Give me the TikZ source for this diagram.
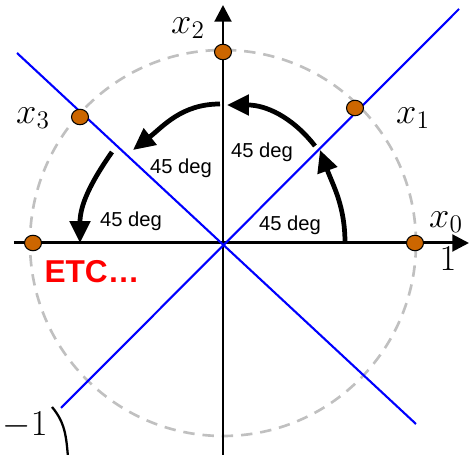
\documentclass[tikz,border=0pt]{standalone}
\usepackage{fontspec}
\usepackage{tikz}
\usetikzlibrary{arrows.meta,shapes.geometric}
\newfontfamily\labfont{Liberation Sans}
\definecolor{dotCol}{HTML}{CC6600}
\definecolor{circEdge}{HTML}{C0C0C0}
\definecolor{lineCol}{HTML}{0000FF}
\definecolor{etcCol}{HTML}{FF0000}
\tikzset{
  ptdot/.style={ellipse, draw=black, fill=dotCol, line width=0.6pt, inner sep=0pt,
        minimum width=0.34cm, minimum height=0.31cm},
  axis/.style={-{Triangle[length=9.5pt,width=9.5pt]}, line width=1.7pt},
  diag/.style={lineCol, line width=1.2pt},
  turn/.style={-{Triangle[length=12.5pt,width=11.5pt]}, line width=2.7pt},
  mlab/.style={font=\fontsize{20}{22}\selectfont, inner sep=0pt},
  dlab/.style={font=\labfont\fontsize{11.5}{13}\selectfont, inner sep=0pt},
}

\begin{document}
\begin{tikzpicture}[x=0.02cm,y=0.02cm]
  \useasboundingbox (-223,-212) rectangle (247,243);
  \draw[circEdge, line width=1.5pt, dash pattern=on 6.5pt off 4.5pt] (0,0) circle (193);
  % axes
  \coordinate (xl) at (-209,0);
  \coordinate (xr) at (246,0);
  \coordinate (yb) at (0,-214);
  \coordinate (yt) at (0,238);
  \draw[axis] (xl)--(xr);
  \draw[axis] (yb)--(yt);
  % quarter turns
  \coordinate (s1) at (122,0);   \coordinate (e1) at (97,93);
  \coordinate (s2) at (92,97);   \coordinate (e2) at (4,138);
  \coordinate (s3) at (-3,139);  \coordinate (e3) at (-90,93);
  \coordinate (s4) at (-111,91); \coordinate (e4) at (-143,0);
  \draw[turn] (s1) to[out=90,in=-70] (e1);
  \draw[turn] (s2) to[out=128,in=0] (e2);
  \draw[turn] (s3) to[out=180,in=38] (e3);
  \draw[turn] (s4) to[out=-125,in=90] (e4);
  % diagonals
  \coordinate (a1) at (-162,-165); \coordinate (a2) at (236,234);
  \coordinate (b1) at (-206,190);  \coordinate (b2) at (193,-181);
  \draw[diag] (a1)--(a2);
  \draw[diag] (b1)--(b2);
  % points on the circle
  \node[ptdot] (p0) at (192,0){};
  \node[ptdot] (p1) at (132,135){};
  \node[ptdot] (p2) at (0,191){};
  \node[ptdot] (p3) at (-143,126){};
  \node[ptdot] (p4) at (-190,0){};
  \node[mlab] (l0) at (223,21){$x_0$};
  \node[mlab] (l1) at (190,125){$x_1$};
  \node[mlab] (l2) at (-35,215){$x_2$};
  \node[mlab] (l3) at (-190,125){$x_3$};
  \node[mlab] (one) at (225,-16){$1$};
  \node[mlab] (mone) at (-198,-182){$-1$};
  \coordinate (c1) at (-171,-164);
  \coordinate (c2) at (-155,-214);
  \draw[line width=1.3pt] (c1) to[out=-50,in=95] (c2);
  \node[dlab] (g1) at (39,91){45 deg};
  \node[dlab] (g2) at (-42,75){45 deg};
  \node[dlab] (g0) at (67,18){45 deg};
  \node[dlab] (g3) at (-92,22){45 deg};
  \node[font=\labfont\bfseries\fontsize{18}{20}\selectfont, text=etcCol, inner sep=0pt] (etc) at (-131,-29){ETC…};
\end{tikzpicture}
\end{document}
